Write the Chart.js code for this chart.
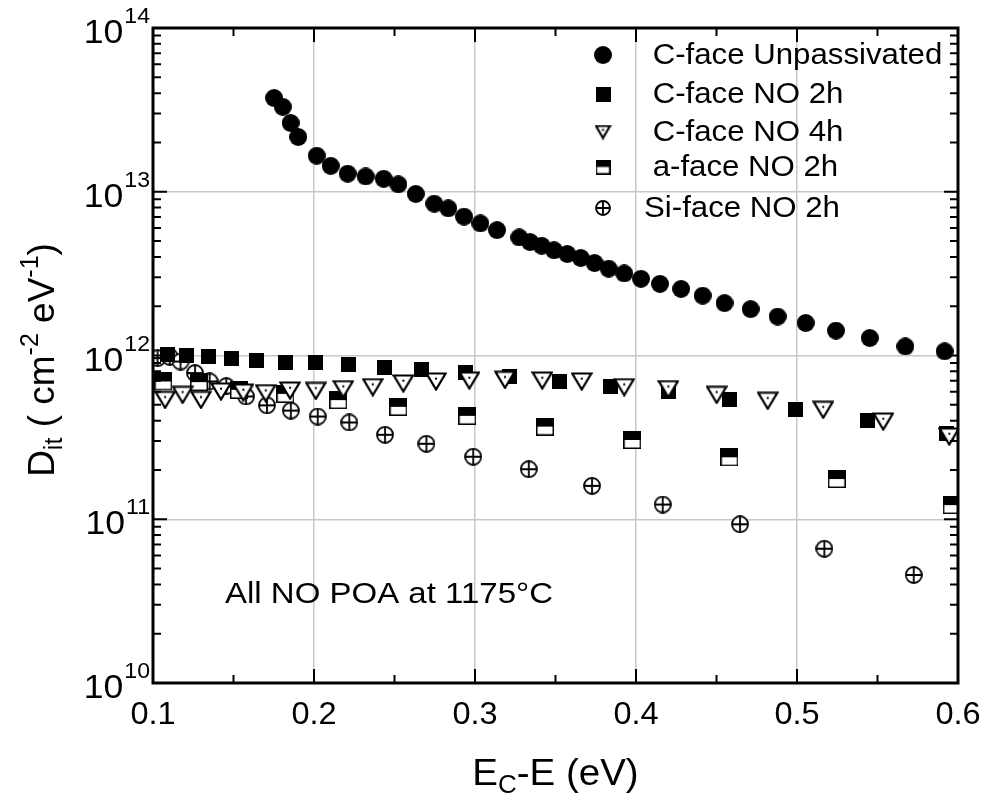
<!DOCTYPE html>
<html>
<head>
<meta charset="utf-8">
<script src="https://cdn.jsdelivr.net/npm/chart.js@4.4.1/dist/chart.umd.min.js"></script>
<style>
  html, body { margin: 0; padding: 0; background: #fff; }
  #wrap { width: 987px; height: 806px; }
</style>
</head>
<body>
<div id="wrap"><canvas id="ditChart" width="987" height="806"></canvas></div>
<script>
// Series names (legend order)
const seriesNames = [' C-face Unpassivated', ' C-face NO 2h', ' C-face NO 4h', ' a-face NO 2h', 'Si-face NO 2h'];

// C-face Unpassivated
const unpassX = [0.1752, 0.1806, 0.1855, 0.1902, 0.2017, 0.2104, 0.2209, 0.2321, 0.2433, 0.2524,
                 0.2632, 0.2747, 0.2834, 0.2932, 0.3033, 0.3137, 0.3275, 0.3342, 0.3414, 0.3491,
                 0.3573, 0.3657, 0.3743, 0.3830, 0.3927, 0.4031, 0.4149, 0.4280, 0.4414, 0.4550,
                 0.4712, 0.4880, 0.5054, 0.5242, 0.5452, 0.5673, 0.5917];
const unpassY = [3.74e13, 3.30e13, 2.63e13, 2.16e13, 1.66e13, 1.44e13, 1.29e13, 1.24e13, 1.20e13, 1.11e13,
                 9.7e12, 8.46e12, 7.92e12, 7.05e12, 6.41e12, 5.83e12, 5.26e12, 4.93e12, 4.68e12, 4.39e12,
                 4.17e12, 3.94e12, 3.67e12, 3.39e12, 3.17e12, 2.94e12, 2.74e12, 2.55e12, 2.32e12, 2.09e12,
                 1.92e12, 1.73e12, 1.58e12, 1.42e12, 1.28e12, 1.135e12, 1.06e12];

// C-face NO 2h
const c2hX = [0.1090, 0.1209, 0.1342, 0.1489, 0.1644, 0.1820, 0.2011, 0.2216, 0.2437, 0.2665,
              0.2938, 0.3217, 0.3522, 0.3843, 0.4201, 0.4578, 0.4988, 0.5435, 0.5930];
const c2hY = [1.02e12, 1.0e12, 9.82e11, 9.57e11, 9.37e11, 9.09e11, 9.06e11, 8.86e11, 8.49e11, 8.18e11,
              7.87e11, 7.44e11, 6.94e11, 6.46e11, 6.02e11, 5.36e11, 4.70e11, 4.01e11, 3.35e11];

// C-face NO 4h
const c4hX = [0.1075, 0.1184, 0.1298, 0.1422, 0.1561, 0.1700, 0.1851, 0.2011, 0.2182, 0.2365,
              0.2555, 0.2758, 0.2965, 0.3186, 0.3418, 0.3663, 0.3927, 0.4201, 0.4501, 0.4818,
              0.5163, 0.5536, 0.5946];
const c4hY = [5.36e11, 5.75e11, 5.36e11, 6.03e11, 5.94e11, 5.89e11, 6.11e11, 6.08e11, 6.23e11, 6.41e11,
              6.75e11, 6.94e11, 7.03e11, 7.10e11, 7.03e11, 6.94e11, 6.41e11, 6.23e11, 5.75e11, 5.29e11,
              4.66e11, 3.95e11, 3.20e11];

// a-face NO 2h
const aX = [0.1064, 0.1286, 0.1534, 0.1822, 0.2151, 0.2524, 0.2952, 0.3435, 0.3977, 0.4580, 0.5247, 0.5961];
const aY = [6.94e11, 6.88e11, 6.17e11, 5.83e11, 5.34e11, 4.86e11, 4.28e11, 3.68e11, 3.05e11, 2.39e11, 1.76e11, 1.22e11];

// Si-face NO 2h
const siX = [0.1028, 0.1104, 0.1171, 0.1261, 0.1352, 0.1455, 0.1578, 0.1708, 0.1856, 0.2023,
             0.2219, 0.2441, 0.2698, 0.2989, 0.3334, 0.3727, 0.4166, 0.4646, 0.5170, 0.5725];
const siY = [9.64e11, 9.82e11, 9.19e11, 7.81e11, 6.94e11, 6.50e11, 5.62e11, 4.96e11, 4.61e11, 4.24e11,
             3.90e11, 3.28e11, 2.89e11, 2.41e11, 2.02e11, 1.60e11, 1.23e11, 9.32e10, 6.61e10, 4.57e10];

// Axis ticks
const xTicks = [0.1, 0.2, 0.3, 0.4, 0.5, 0.6];
const xMinorTicks = [0.15, 0.25, 0.35, 0.45, 0.55];
const yDecades = [1e10, 1e11, 1e12, 1e13, 1e14];
const yExponents = ['10', '11', '12', '13', '14'];

const annotationText = 'All NO POA at 1175\u00B0C';

const FONT = '"Liberation Sans", Arial, sans-serif';

function pts(xs, ys) {
    return xs.map((x, i) => ({ x: x, y: ys[i] }));
}

function makeCanvas(w, h, draw) {
    const c = document.createElement('canvas');
    c.width = w;
    c.height = h;
    draw(c.getContext('2d'), w, h);
    return c;
}

// marker images
function dotMarker(d) {
    return makeCanvas(d, d, (ctx) => {
        ctx.fillStyle = '#000';
        ctx.beginPath();
        ctx.arc(d / 2, d / 2, d / 2, 0, Math.PI * 2);
        ctx.fill();
    });
}
function squareMarker(s) {
    return makeCanvas(s, s, (ctx) => {
        ctx.fillStyle = '#000';
        ctx.fillRect(0, 0, s, s);
    });
}
function triMarker(w, h) {
    return makeCanvas(w + 2, h + 2, (ctx) => {
        ctx.lineWidth = 2.2;
        ctx.lineJoin = 'miter';
        ctx.strokeStyle = '#000';
        ctx.fillStyle = '#fff';
        ctx.beginPath();
        ctx.moveTo(1.5, 1.5);
        ctx.lineTo(w + 0.5, 1.5);
        ctx.lineTo(w / 2 + 1, h + 0.5);
        ctx.closePath();
        ctx.fill();
        ctx.stroke();
        ctx.fillStyle = '#000';
        ctx.fillRect(w / 2, h / 3, 2, 2);
    });
}
function halfMarker(s) {
    return makeCanvas(s, s, (ctx) => {
        ctx.fillStyle = '#fff';
        ctx.fillRect(0, 0, s, s);
        ctx.fillStyle = '#000';
        ctx.fillRect(0, 0, s, s / 2);
        ctx.lineWidth = 1.5;
        ctx.strokeStyle = '#000';
        ctx.strokeRect(0.75, 0.75, s - 1.5, s - 1.5);
    });
}
function crossMarker(d) {
    return makeCanvas(d, d, (ctx) => {
        const r = d / 2 - 1;
        ctx.lineWidth = 1.8;
        ctx.strokeStyle = '#000';
        ctx.fillStyle = '#fff';
        ctx.beginPath();
        ctx.arc(d / 2, d / 2, r, 0, Math.PI * 2);
        ctx.fill();
        ctx.stroke();
        ctx.beginPath();
        ctx.moveTo(d / 2, d / 2 - r);
        ctx.lineTo(d / 2, d / 2 + r);
        ctx.moveTo(d / 2 - r, d / 2);
        ctx.lineTo(d / 2 + r, d / 2);
        ctx.stroke();
    });
}

const markers = [dotMarker(18), squareMarker(15), triMarker(20, 17), halfMarker(18), crossMarker(18)];
const legendMarkers = [dotMarker(18), squareMarker(15), triMarker(15, 13), halfMarker(15), crossMarker(16)];

// text with a horizontal stretch (the original type is a bit wide)
function wideText(ctx, text, x, y, sx, align) {
    const w = ctx.measureText(text).width * sx;
    let left = x;
    if (align === 'center') left = x - w / 2;
    if (align === 'right') left = x - w;
    ctx.save();
    ctx.textAlign = 'left';
    ctx.translate(left, y);
    ctx.scale(sx, 1);
    ctx.fillText(text, 0, 0);
    ctx.restore();
    return w;
}

function drawParts(ctx, parts, cx, baseY, sx) {
    let total = 0;
    parts.forEach(p => { ctx.font = p[1]; total += ctx.measureText(p[0]).width * sx; });
    let x = cx - total / 2;
    ctx.textBaseline = 'alphabetic';
    parts.forEach(p => {
        ctx.font = p[1];
        x += wideText(ctx, p[0], x, baseY + p[2], sx, 'left');
    });
}

// frame, inward ticks, tick labels, titles, legend, note
const decorPlugin = {
    id: 'decor',
    afterDraw(chart) {
        const ctx = chart.ctx;
        const a = chart.chartArea;
        const xs = chart.scales.x;
        const ys = chart.scales.y;
        ctx.save();
        ctx.strokeStyle = '#000';
        ctx.fillStyle = '#000';

        // ticks
        ctx.lineWidth = 2;
        ctx.beginPath();
        xTicks.forEach(v => {
            const px = xs.getPixelForValue(v);
            ctx.moveTo(px, a.bottom); ctx.lineTo(px, a.bottom - 14);
            ctx.moveTo(px, a.top); ctx.lineTo(px, a.top + 14);
        });
        xMinorTicks.forEach(v => {
            const px = xs.getPixelForValue(v);
            ctx.moveTo(px, a.bottom); ctx.lineTo(px, a.bottom - 8);
            ctx.moveTo(px, a.top); ctx.lineTo(px, a.top + 8);
        });
        yDecades.forEach((v, i) => {
            const py = ys.getPixelForValue(v);
            ctx.moveTo(a.left, py); ctx.lineTo(a.left + 14, py);
            ctx.moveTo(a.right, py); ctx.lineTo(a.right - 14, py);
            if (i < yDecades.length - 1) {
                for (let m = 2; m <= 9; m++) {
                    const pm = ys.getPixelForValue(v * m);
                    ctx.moveTo(a.left, pm); ctx.lineTo(a.left + 8, pm);
                    ctx.moveTo(a.right, pm); ctx.lineTo(a.right - 8, pm);
                }
            }
        });
        ctx.stroke();

        // frame
        ctx.lineWidth = 3;
        ctx.strokeRect(a.left, a.top, a.right - a.left, a.bottom - a.top);

        // x tick labels
        ctx.font = '31px ' + FONT;
        ctx.textBaseline = 'alphabetic';
        xTicks.forEach(v => {
            wideText(ctx, v.toFixed(1), xs.getPixelForValue(v), a.bottom + 41, 1.05, 'center');
        });

        // y tick labels 10^n
        yDecades.forEach((v, i) => {
            const py = ys.getPixelForValue(v);
            ctx.font = '22px ' + FONT;
            const ew = wideText(ctx, yExponents[i], a.left - 3, py - 5, 1.05, 'right');
            ctx.font = '33px ' + FONT;
            wideText(ctx, '10', a.left - 4 - ew, py + 15, 1.08, 'right');
        });

        // x title E_C-E (eV)
        const big = '37px ' + FONT;
        const small = '25px ' + FONT;
        let parts = [['E', big, 0], ['C', small, 8], ['-E (eV)', big, 0]];
        drawParts(ctx, parts, (a.left + a.right) / 2, 785, 1.04);

        // y title D_it ( cm^-2 eV^-1)
        ctx.save();
        ctx.translate(42, 360);
        ctx.rotate(-Math.PI / 2);
        parts = [['D', big, 0], ['it', small, 8], [' ( cm', big, 0], ['-2', small, -16],
                 [' eV', big, 0], ['-1', small, -16], [')', big, 0]];
        drawParts(ctx, parts, 0, 12, 1.0);
        ctx.restore();

        // note
        ctx.font = '30px ' + FONT;
        wideText(ctx, annotationText, 225, 603, 1.1, 'left');

        // legend
        const rows = [55, 94, 132, 167, 208];
        ctx.font = '30px ' + FONT;
        ctx.textBaseline = 'middle';
        seriesNames.forEach((name, i) => {
            const m = legendMarkers[i];
            ctx.drawImage(m, 603 - m.width / 2, rows[i] - m.height / 2);
            wideText(ctx, name, 644, rows[i] + 1, 1.04, 'left');
        });
        ctx.restore();
    }
};

const data = {
    datasets: [
        { label: seriesNames[0], data: pts(unpassX, unpassY), pointStyle: markers[0], order: 0 },
        { label: seriesNames[1], data: pts(c2hX, c2hY), pointStyle: markers[1], order: 2 },
        { label: seriesNames[2], data: pts(c4hX, c4hY), pointStyle: markers[2], order: 1 },
        { label: seriesNames[3], data: pts(aX, aY), pointStyle: markers[3], order: 3 },
        { label: seriesNames[4], data: pts(siX, siY), pointStyle: markers[4], order: 4 }
    ]
};

new Chart(document.getElementById('ditChart'), {
    type: 'scatter',
    data: data,
    options: {
        responsive: false,
        animation: false,
        layout: { padding: { left: 153, right: 29, top: 28, bottom: 123 } },
        plugins: {
            legend: { display: false },
            tooltip: { enabled: false }
        },
        scales: {
            x: {
                type: 'linear',
                min: 0.1,
                max: 0.6,
                ticks: { display: false, stepSize: 0.1 },
                grid: { color: '#c8c8c8', lineWidth: 1.5, drawTicks: false },
                border: { display: false }
            },
            y: {
                type: 'logarithmic',
                min: 1e10,
                max: 1e14,
                afterBuildTicks: (scale) => {
                    scale.ticks = yDecades.map(v => ({ value: v }));
                },
                ticks: { display: false },
                grid: { color: '#c8c8c8', lineWidth: 1.5, drawTicks: false },
                border: { display: false }
            }
        }
    },
    plugins: [decorPlugin]
});
</script>
</body>
</html>
